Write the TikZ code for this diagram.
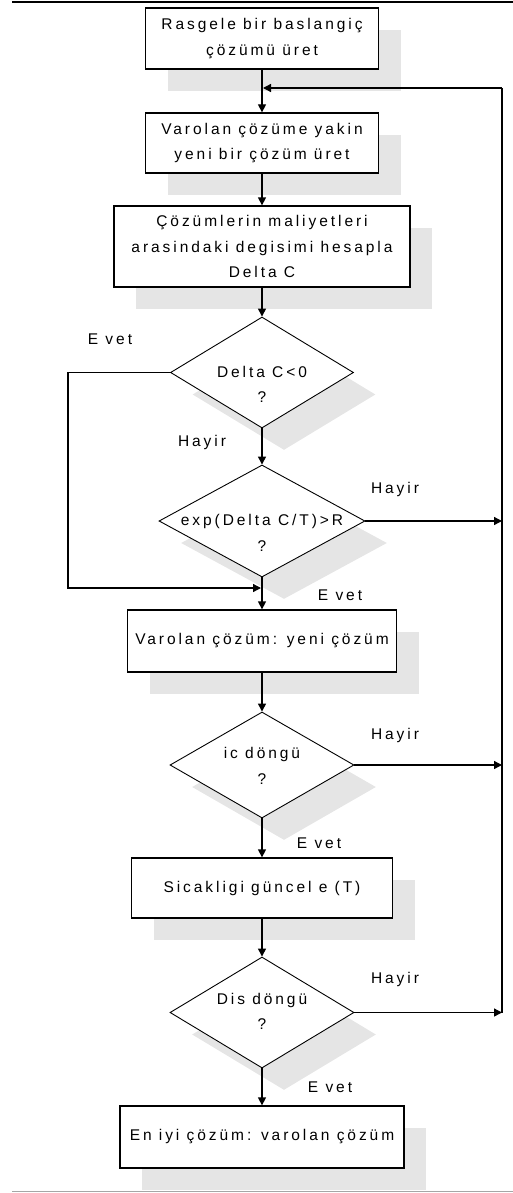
\documentclass[tikz,border=0pt]{standalone}
\usepackage{fontspec}
\setmainfont{Liberation Sans}[LetterSpace=19]
\usetikzlibrary{shapes.geometric,arrows.meta,shadows}

\begin{document}
\begin{tikzpicture}[x=1pt,y=-1pt,
  txt/.style={font=\fontsize{15.5}{25.5}\selectfont, align=center, inner sep=0pt},
  shade/.style={drop shadow={shadow xshift=22pt, shadow yshift=-22pt, fill=black!10, opacity=1}},
  proc/.style={txt, draw, line width=1.3pt, fill=white, shade},
  decision/.style={diamond, draw, line width=0.9pt, fill=white, inner sep=0pt, shade},
  lbl/.style={txt},
  link/.style={line width=1.3pt},
  arr/.style={link, -{Triangle[length=8pt,width=8pt]}}
]
\useasboundingbox (0,0) rectangle (513,1193);

% page rules
\draw[line width=2pt] (12,2) -- (513,2);
\draw[black!35, line width=1pt] (12,1191.5) -- (513,1191.5);

% process boxes
\node[proc, minimum width=233pt, minimum height=61pt] (b1) at (262,38.5)
  {Rasgele bir baslangiç\\çözümü üret};
\node[proc, minimum width=233pt, minimum height=60pt] (b2) at (262,143)
  {Varolan çözüme yakin\\yeni bir çözüm üret};
\node[proc, minimum width=296pt, minimum height=81pt] (b3) at (262,246.5)
  {Çözümlerin maliyetleri\\arasindaki degisimi hesapla\\Delta C};

% decisions
\node[decision, minimum width=183pt, minimum height=111pt] (d1) at (262,372.5) {};
\node[txt] (t1) at (262,384.5) {Delta C<0\\?};
\node[decision, minimum width=206pt, minimum height=112pt] (d2) at (262,521) {};
\node[txt] (t2) at (262,533) {exp(Delta C/T)>R\\?};

\node[proc, minimum width=269pt, minimum height=62pt] (b4) at (262,641)
  {Varolan çözüm: yeni çözüm};

\node[decision, minimum width=184pt, minimum height=106pt] (d3) at (262,765) {};
\node[txt] (t3) at (262,766) {ic döngü\\?};

\node[proc, minimum width=261pt, minimum height=60pt] (b5) at (262,888)
  {Sicakligi güncel e (T)};

\node[decision, minimum width=184pt, minimum height=111pt] (d4) at (262,1012.5) {};
\node[txt] (t4) at (262,1011.5) {Dis döngü\\?};

\node[proc, minimum width=284pt, minimum height=62pt] (b6) at (262,1137)
  {En iyi çözüm: varolan çözüm};

% branch labels
\node[lbl] (l1) at (110,339) {E vet};
\node[lbl] (l2) at (202,442) {Hayir};
\node[lbl] (l3) at (395,489) {Hayir};
\node[lbl] (l4) at (340,595) {E vet};
\node[lbl] (l5) at (395,735) {Hayir};
\node[lbl] (l6) at (319,843) {E vet};
\node[lbl] (l7) at (395,979) {Hayir};
\node[lbl] (l8) at (330,1087) {E vet};

% junction points
\coordinate (rt) at (502,88);
\coordinate (rb) at (502,1012.5);
\coordinate (j1) at (263,88);
\coordinate (lk) at (68,588);
\coordinate (j2) at (261,588);

% main flow
\draw[arr] (b1) -- (b2);
\draw[arr] (b2) -- (b3);
\draw[arr] (b3) -- (d1);
\draw[arr] (d1) -- (d2);
\draw[arr] (d2) -- (b4);
\draw[arr] (b4) -- (d3);
\draw[arr] (d3) -- (b5);
\draw[arr] (b5) -- (d4);
\draw[arr] (d4) -- (b6);

% yes-branch of the first test skips the second
\draw[arr] (d1.west) -| (lk) -- (j2);

% no-branches return to the top of the loop
\draw[arr] (d2.east) -- (d2.east -| rt);
\draw[arr] (d3.east) -- (d3.east -| rt);
\draw[arr] (d4.east) -- (rb);
\draw[link] (rb) -- (rt);
\draw[arr] (rt) -- (j1);
\end{tikzpicture}
\end{document}
